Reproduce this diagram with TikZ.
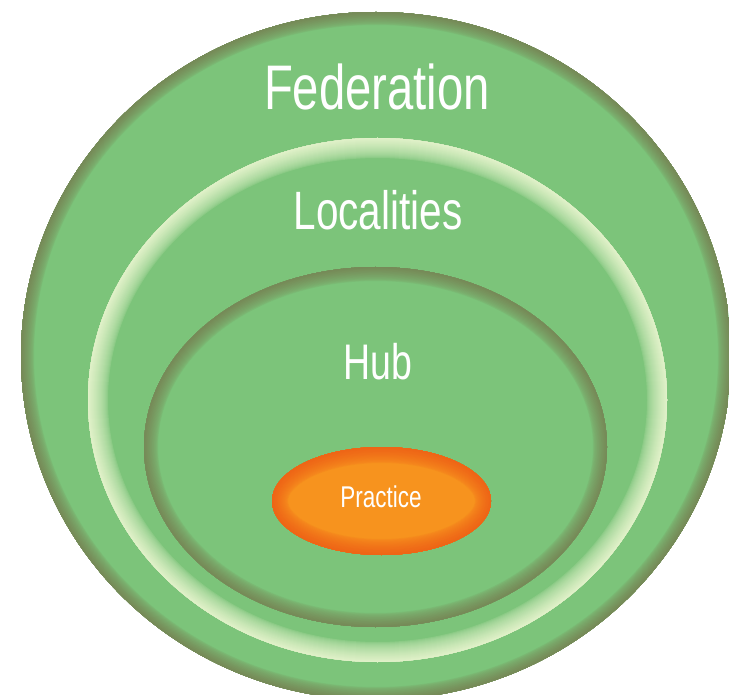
\documentclass[tikz,border=0pt]{standalone}
\usepackage{fontspec}
\newfontfamily\narrowsans[FakeStretch=0.75]{Liberation Sans}

\definecolor{ringgreen}{HTML}{7CC47A}
\definecolor{rimdark}{HTML}{768A58}
\definecolor{rimlight}{HTML}{E0F1C8}
\definecolor{practiceorange}{HTML}{F7931E}
\definecolor{practicerim}{HTML}{EE6516}

% filled ellipse with a soft rim: cx, cy, rx, ry, rim width, rim colour, fill colour
\newcommand{\softellipse}[7]{%
  \fill[#7] (#1,#2) ellipse [x radius=#3, y radius=#4];
  \begin{scope}
    \clip (#1,#2) ellipse [x radius=#3, y radius=#4];
    \foreach \k in {0,...,19} {
      \pgfmathsetmacro{\rimw}{2*#5*(1-\k/20)}
      \pgfmathtruncatemacro{\rimmix}{100*((\k+1)/20)^0.6}
      \draw[line width=\rimw pt, #6!\rimmix!#7] (#1,#2) ellipse [x radius=#3, y radius=#4];
    }
  \end{scope}}

\tikzset{
  ringlabel/.style={text=white, inner sep=0pt, font=\narrowsans}
}

\begin{document}
\begin{tikzpicture}[x=1pt,y=-1pt]
        \useasboundingbox (0,0) rectangle (729,695);

        % rings, outside in
        \softellipse{376}{356}{355}{344}{13}{rimdark}{ringgreen}
        \softellipse{377.5}{400}{289.5}{262}{20}{rimlight}{ringgreen}
        \softellipse{375.5}{447}{231.5}{180}{14}{rimdark}{ringgreen}
        \softellipse{381.5}{501}{109.5}{54}{16}{practicerim}{practiceorange}

        % labels
        \node[ringlabel, font=\narrowsans\fontsize{63}{63}\selectfont] (federation) at (377,87) {Federation};
        \node[ringlabel, font=\narrowsans\fontsize{54}{54}\selectfont] (localities) at (378,210) {Localities};
        \node[ringlabel, font=\narrowsans\fontsize{50}{50}\selectfont] (hub) at (378,362) {Hub};
        \node[ringlabel, font=\narrowsans\fontsize{30}{30}\selectfont] (practice) at (381,497) {Practice};
    \end{tikzpicture}
\end{document}
